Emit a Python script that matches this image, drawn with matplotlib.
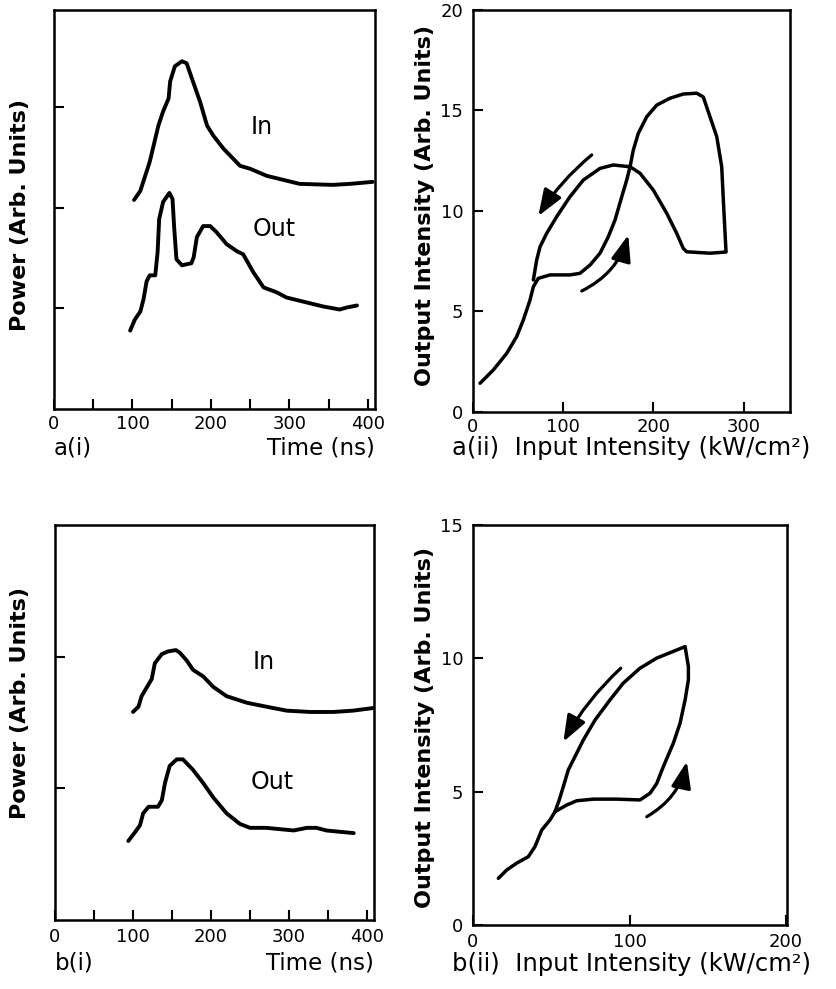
import matplotlib
matplotlib.use("Agg")
import matplotlib.pyplot as plt

# a(i): input / output pulses (time in ns, power in arb. units)
a_in_t = [102, 110, 122, 133, 139, 146, 148, 154, 163, 169, 177, 186, 195, 203,
          216, 237, 250, 271, 313, 355, 377, 406]
a_in_p = [2.08, 2.17, 2.46, 2.82, 2.96, 3.09, 3.26, 3.41, 3.46, 3.44, 3.26, 3.06,
          2.82, 2.72, 2.59, 2.42, 2.39, 2.32, 2.24, 2.23, 2.24, 2.26]
a_out_t = [97, 103, 110, 114, 118, 122, 129, 132, 134, 139, 147, 151, 153, 156,
           163, 175, 178, 182, 190, 199, 207, 220, 233, 241, 254, 267, 284, 296,
           322, 343, 364, 373, 386]
a_out_p = [0.78, 0.89, 0.97, 1.09, 1.27, 1.33, 1.33, 1.56, 1.89, 2.06, 2.15, 2.09,
           1.82, 1.49, 1.43, 1.45, 1.51, 1.71, 1.82, 1.82, 1.76, 1.64, 1.57, 1.54,
           1.36, 1.21, 1.16, 1.11, 1.06, 1.02, 0.99, 1.01, 1.03]

# b(i): input / output pulses
b_in_t = [100, 107, 111, 118, 124, 128, 137, 145, 155, 160, 169, 177, 190, 203,
          220, 246, 271, 297, 327, 357, 382, 408]
b_in_p = [1.58, 1.62, 1.70, 1.77, 1.83, 1.95, 2.02, 2.04, 2.05, 2.03, 1.97, 1.90,
          1.85, 1.77, 1.70, 1.65, 1.62, 1.59, 1.58, 1.58, 1.59, 1.61]
b_out_t = [94, 103, 109, 113, 120, 132, 137, 141, 147, 156, 164, 177, 190, 203,
           220, 237, 250, 271, 288, 306, 323, 335, 348, 365, 383]
b_out_p = [0.60, 0.67, 0.72, 0.81, 0.86, 0.86, 0.91, 1.04, 1.17, 1.22, 1.22, 1.14,
           1.04, 0.93, 0.81, 0.73, 0.70, 0.70, 0.69, 0.68, 0.70, 0.70, 0.68, 0.67,
           0.66]

# a(ii): hysteresis loop (input kW/cm2, output arb. units)
a_loop_x = [7.8, 22.5, 37.4, 48.4, 55.8, 63.2, 66.9, 72.4, 85.4, 107.5, 118.6,
            129.7, 140.8, 150.0, 157.4, 164.9, 170.4, 174.1, 177.7, 183.3, 192.6,
            203.7, 218.4, 233.1, 248.0, 255.3, 262.7, 270.2, 275.7, 277.5, 279.4,
            280.5, 262.7, 236.9, 233.1, 225.8, 214.7, 199.9, 185.1, 174.1, 155.5,
            140.8, 122.3, 107.5, 92.8, 81.7, 74.3, 70.6, 66.9]
a_loop_y = [1.43, 2.09, 2.92, 3.75, 4.58, 5.57, 6.23, 6.65, 6.82, 6.82, 6.90,
            7.31, 7.90, 8.72, 9.55, 10.71, 11.54, 12.20, 13.03, 13.87, 14.69,
            15.27, 15.61, 15.82, 15.86, 15.67, 14.69, 13.70, 12.20, 10.55, 8.89,
            7.96, 7.90, 7.97, 8.14, 8.89, 9.89, 11.04, 11.88, 12.20, 12.29,
            12.12, 11.54, 10.71, 9.72, 8.89, 8.22, 7.56, 6.57]
a_arrow_down = [(131.6, 12.79), (72.4, 9.75)]
a_arrow_up = [(120.5, 6.02), (172.2, 8.81)]

# b(ii): hysteresis loop
b_loop_x = [16.2, 21.5, 27.9, 35.3, 39.6, 43.9, 49.2, 52.4, 59.9, 66.3, 76.9,
            91.8, 106.7, 113.1, 117.4, 121.6, 128.0, 132.3, 135.5, 137.6, 137.6,
            135.5, 128.0, 117.4, 106.7, 96.0, 87.5, 78.0, 70.5, 65.2, 60.9, 57.7,
            55.1, 52.4]
b_loop_y = [1.75, 2.06, 2.32, 2.56, 2.94, 3.56, 3.94, 4.25, 4.50, 4.66, 4.72,
            4.72, 4.69, 4.94, 5.31, 5.94, 6.82, 7.57, 8.44, 9.19, 9.69, 10.44,
            10.26, 10.01, 9.63, 9.07, 8.44, 7.69, 6.94, 6.32, 5.82, 5.19, 4.69,
            4.25]
b_arrow_down = [(94.4, 9.63), (57.7, 6.87)]
b_arrow_up = [(111.0, 4.06), (136.6, 6.13)]

W, H = 837, 989
LABEL_SIZE = 16.5
WIDE_LABEL_SIZE = 17.5
TICK_SIZE = 13

fig = plt.figure(figsize=(W / 100, H / 100), dpi=100)
fig.patch.set_facecolor("white")


def add_axes(left, top, right, bottom):
    """Place axes with pixel edges measured on the page."""
    return fig.add_axes([left / W, 1 - bottom / H, (right - left) / W, (bottom - top) / H])


def style(ax, xpad=4):
    for s in ax.spines.values():
        s.set_linewidth(1.8)
    ax.tick_params(which="both", direction="in", width=1.5, length=7,
                   labelsize=TICK_SIZE)
    ax.tick_params(axis="x", which="both", pad=xpad)
    ax.tick_params(axis="y", which="both", pad=7)


line_kw = dict(color="black", solid_capstyle="round", solid_joinstyle="round")


def arrow(ax, pts, rad):
    (x0, y0), (x1, y1) = pts
    ax.annotate("", xy=(x1, y1), xytext=(x0, y0),
                arrowprops=dict(arrowstyle="-|>,head_length=0.8,head_width=0.3",
                                connectionstyle=f"arc3,rad={rad}", lw=2.3,
                                color="black", mutation_scale=20,
                                shrinkA=0, shrinkB=0))


# ---- a(i)
ax = add_axes(54, 10, 375, 409)
style(ax)
ax.plot(a_in_t, a_in_p, lw=2.8, **line_kw)
ax.plot(a_out_t, a_out_p, lw=2.8, **line_kw)
ax.set_xlim(0, 409)
ax.set_ylim(0, 3.97)
ax.set_xticks([0, 100, 200, 300, 400])
ax.set_xticks([50, 150, 250, 350], minor=True)
ax.set_yticks([1, 2, 3])
ax.set_yticklabels([])
ax.text(265, 2.81, "In", fontsize=17, ha="center", va="center")
ax.text(280, 1.79, "Out", fontsize=17, ha="center", va="center")
ax.text(0.0, -0.097, "a(i)", transform=ax.transAxes, ha="left", va="center",
        fontsize=LABEL_SIZE)
ax.text(1.0, -0.097, "Time (ns)", transform=ax.transAxes, ha="right", va="center",
        fontsize=LABEL_SIZE)
fig.text(20 / W, 1 - 215 / H, "Power (Arb. Units)", rotation=90, ha="center",
         va="center", fontsize=16, fontweight="bold")

# ---- a(ii)
ax = add_axes(473, 10, 790, 412)
style(ax)
ax.plot(a_loop_x, a_loop_y, lw=2.5, **line_kw)
arrow(ax, a_arrow_down, 0.08)
arrow(ax, a_arrow_up, 0.22)
ax.set_xlim(0, 351.4)
ax.set_ylim(0, 20)
ax.set_xticks([0, 100, 200, 300])
ax.set_yticks([0, 5, 10, 15, 20])
ax.text(-0.066, -0.09, "a(ii)  Input Intensity (kW/cm²)", transform=ax.transAxes,
        ha="left", va="center", fontsize=WIDE_LABEL_SIZE)
fig.text(425 / W, 1 - 205 / H, "Output Intensity (Arb. Units)", rotation=90,
         ha="center", va="center", fontsize=16, fontweight="bold")

# ---- b(i)
ax = add_axes(55, 525, 374, 920)
style(ax, xpad=6)
ax.plot(b_in_t, b_in_p, lw=2.8, **line_kw)
ax.plot(b_out_t, b_out_p, lw=2.8, **line_kw)
ax.set_xlim(0, 409)
ax.set_ylim(0, 3.0)
ax.set_xticks([0, 100, 200, 300, 400])
ax.set_xticks([50, 150, 250, 350], minor=True)
ax.set_yticks([1, 2])
ax.set_yticklabels([])
ax.text(267, 1.96, "In", fontsize=17, ha="center", va="center")
ax.text(279, 1.05, "Out", fontsize=17, ha="center", va="center")
ax.text(0.0, -0.11, "b(i)", transform=ax.transAxes, ha="left", va="center",
        fontsize=LABEL_SIZE)
ax.text(1.0, -0.11, "Time (ns)", transform=ax.transAxes, ha="right", va="center",
        fontsize=LABEL_SIZE)
fig.text(20 / W, 1 - 703 / H, "Power (Arb. Units)", rotation=90, ha="center",
         va="center", fontsize=16, fontweight="bold")

# ---- b(ii)
ax = add_axes(473, 525, 787, 925)
style(ax, xpad=6)
ax.plot(b_loop_x, b_loop_y, lw=2.5, **line_kw)
arrow(ax, b_arrow_down, 0.08)
arrow(ax, b_arrow_up, 0.22)
ax.set_xlim(0, 200.6)
ax.set_ylim(0, 15)
ax.set_xticks([0, 100, 200])
ax.set_yticks([0, 5, 10, 15])
ax.text(-0.066, -0.097, "b(ii)  Input Intensity (kW/cm²)", transform=ax.transAxes,
        ha="left", va="center", fontsize=WIDE_LABEL_SIZE)
fig.text(425 / W, 1 - 727 / H, "Output Intensity (Arb. Units)", rotation=90,
         ha="center", va="center", fontsize=16, fontweight="bold")

fig.savefig("out.png", dpi=100)
